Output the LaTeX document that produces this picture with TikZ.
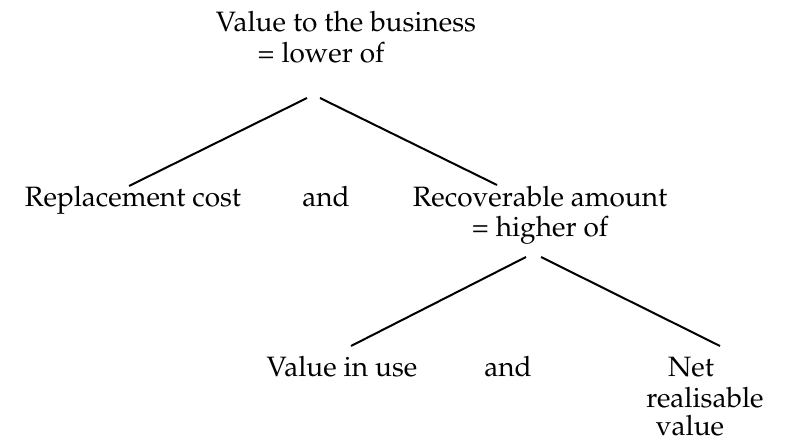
\documentclass[tikz,border=0pt]{standalone}
\usepackage[T1]{fontenc}
\usepackage{mathpazo}
\begin{document}
\begin{tikzpicture}[x=1pt,y=-1pt,
  lbl/.style={anchor=base,inner sep=0pt,font=\fontsize{28}{31}\selectfont},
  branch/.style={line width=2pt}]
\useasboundingbox (0,0) rectangle (811,443);
\node[lbl] (top1) at (346,32) {Value to the business};
\node[lbl] (top2) at (321,63) {= lower of};
\node[lbl] (rc) at (133,207) {Replacement cost};
\node[lbl] (and1) at (326,207) {and};
\node[lbl] (ra1) at (540,207) {Recoverable amount};
\node[lbl] (ra2) at (540,237) {= higher of};
\node[lbl] (viu) at (342,377) {Value in use};
\node[lbl] (and2) at (508,377) {and};
\node[lbl] (nrv1) at (691,377) {Net};
\node[lbl] (nrv2) at (705,407) {realisable};
\node[lbl] (nrv3) at (690,435) {value};
\coordinate (a1) at (307,98);
\coordinate (a2) at (320,98);
\coordinate (b1) at (129,186);
\coordinate (b2) at (497,185);
\coordinate (c1) at (526,257);
\coordinate (c2) at (541,257);
\coordinate (d1) at (351,346);
\coordinate (d2) at (720,346);
\draw[branch] (a1) -- (b1);
\draw[branch] (a2) -- (b2);
\draw[branch] (c1) -- (d1);
\draw[branch] (c2) -- (d2);
\end{tikzpicture}
\end{document}
